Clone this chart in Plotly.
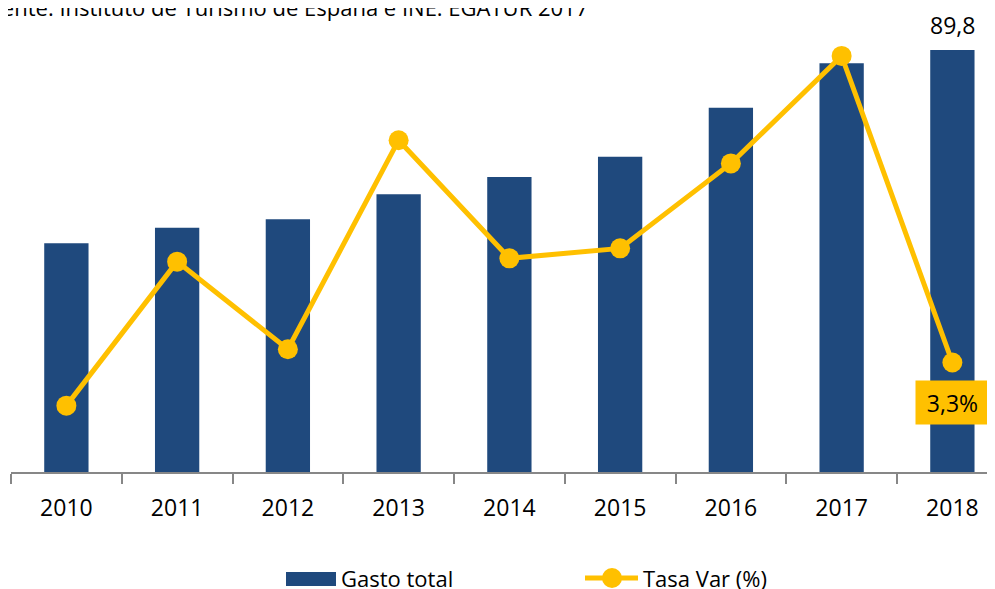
import plotly.graph_objects as go

years = ["2010", "2011", "2012", "2013", "2014", "2015", "2016", "2017", "2018"]
gasto_total = [48.7, 52.0, 53.8, 59.1, 62.8, 67.1, 77.5, 87.0, 89.8]
tasa_var = [2.0, 6.34, 3.7, 10.0, 6.44, 6.74, 9.3, 12.54, 3.3]
source_text = "Fuente: Instituto de Turismo de España e INE. EGATUR 2017"
legend_labels = ["Gasto total", "Tasa Var (%)"]

BLUE = "#1F497D"
GOLD = "#FFC000"
FONT = "Open Sans"

# figure geometry (page is offset by the 8px body margin)
W, H = 995, 589
L, T, B = 3, 12, 125
PW, PH = W - L, H - T - B
CAT_PX = 110.75


def px(fx):
    return (fx - L) / PW


def py(fy):
    return (H - B - fy) / PH


fig = go.Figure()
fig.add_trace(go.Bar(
    x=years, y=gasto_total, name=legend_labels[0],
    marker=dict(color=BLUE, line=dict(width=0)), width=0.4,
))
fig.add_trace(go.Scatter(
    x=years, y=tasa_var, name=legend_labels[1], yaxis="y2",
    mode="lines+markers",
    line=dict(color=GOLD, width=5),
    marker=dict(color=GOLD, size=20),
))

last = len(years) - 1
fig.add_annotation(x=last, y=gasto_total[-1], text=f"{gasto_total[-1]:.1f}".replace(".", ","),
                   showarrow=False, yanchor="bottom", yshift=7,
                   font=dict(size=23, color="#000", family=FONT))
fig.add_annotation(x=last, y=tasa_var[-1], yref="y2",
                   text=f"{tasa_var[-1]:.1f}%".replace(".", ","),
                   showarrow=False, yanchor="top", yshift=-17,
                   width=71, height=41, bgcolor=GOLD,
                   font=dict(size=23, color="#000", family=FONT))
fig.add_annotation(xref="paper", yref="paper", x=px(582), y=py(16),
                   xanchor="right", yanchor="bottom", text=source_text, showarrow=False,
                   font=dict(size=22, color="#000", family=FONT))

# custom legend
shapes = [
    dict(type="rect", xref="paper", yref="paper", x0=px(278), x1=px(328), y0=py(578), y1=py(564),
         fillcolor=BLUE, line=dict(width=0), layer="above"),
    dict(type="line", xref="paper", yref="paper", x0=px(577), x1=px(630), y0=py(570), y1=py(570),
         line=dict(color=GOLD, width=5), layer="above"),
    dict(type="circle", xref="paper", yref="paper", x0=px(594), x1=px(614), y0=py(580), y1=py(560),
         fillcolor=GOLD, line=dict(width=0), layer="above"),
]
fig.add_annotation(xref="paper", yref="paper", x=px(331), y=py(570), xanchor="left", yanchor="middle",
                   text=legend_labels[0], showarrow=False, font=dict(size=22, color="#000", family=FONT))
fig.add_annotation(xref="paper", yref="paper", x=px(633), y=py(570), xanchor="left", yanchor="middle",
                   text=legend_labels[1], showarrow=False, font=dict(size=22, color="#000", family=FONT))

fig.update_layout(
    width=W, height=H,
    margin=dict(l=L, r=0, t=T, b=B, autoexpand=False),
    plot_bgcolor="white", paper_bgcolor="white",
    font=dict(family=FONT, size=22, color="#000"),
    shapes=shapes,
    showlegend=False,
    xaxis=dict(
        type="category", range=[-0.5, -0.5 + PW / CAT_PX],
        showline=True, linecolor="#878787", linewidth=2,
        ticks="outside", tickson="boundaries", ticklen=10, tickcolor="#878787", tickwidth=2,
        ticklabelstandoff=14,
        tickfont=dict(size=23, family=FONT, color="#000"),
        showgrid=False, zeroline=False,
    ),
    yaxis=dict(range=[0, PH / 4.699], visible=False, showgrid=False, zeroline=False),
    yaxis2=dict(range=[0, PH / 33.18], overlaying="y", side="right", visible=False,
                showgrid=False, zeroline=False),
)

fig.write_html("out.html")
